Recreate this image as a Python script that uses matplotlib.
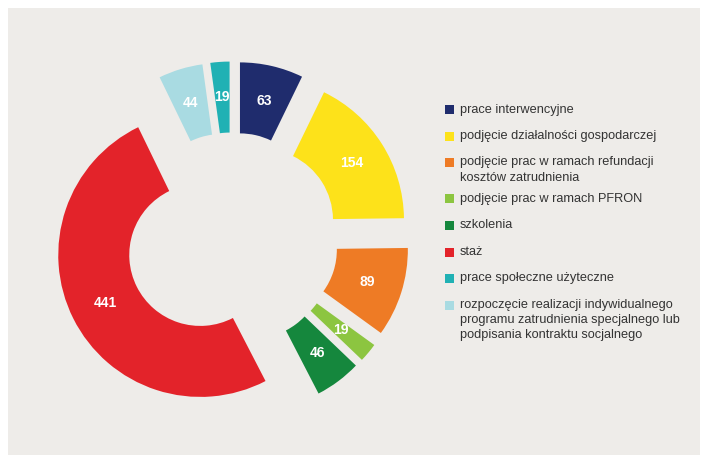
import matplotlib
matplotlib.use("Agg")
import matplotlib.pyplot as plt
from matplotlib.patches import Rectangle

# data (clockwise from the top, as drawn)
labels = [
    "prace interwencyjne",
    "podjęcie działalności gospodarczej",
    "podjęcie prac w ramach refundacji\nkosztów zatrudnienia",
    "podjęcie prac w ramach PFRON",
    "szkolenia",
    "staż",
    "rozpoczęcie realizacji indywidualnego\nprogramu zatrudnienia specjalnego lub\npodpisania kontraktu socjalnego",
    "prace społeczne użyteczne",
]
values = [63, 154, 89, 19, 46, 441, 44, 19]
colors = ["#1f2c6d", "#fde21a", "#ee7b25", "#8cc540", "#15873d",
          "#e3232a", "#a9dbe2", "#20b1b4"]

# legend order differs from drawing order
legend_order = [0, 1, 2, 3, 4, 5, 7, 6]

FONT = ["Liberation Sans Narrow", "DejaVu Sans Condensed", "Liberation Sans"]
W, H = 704, 465
R = 142.0          # outer radius in px
CX, CY = 232, 239  # pie centre in image px

fig = plt.figure(figsize=(W / 100, H / 100), dpi=100, facecolor="white")


def fx(x):
    return x / W


def fy(y):
    return 1 - y / H


# grey panel
fig.patches.append(Rectangle((fx(8), fy(455)), fx(692), (455 - 8) / H,
                             transform=fig.transFigure, facecolor="#eeece9",
                             edgecolor="none", zorder=-5))

ax = fig.add_axes([0, 0, 1, 1])
ax.set_facecolor("none")
ax.set_zorder(2)
total = sum(values)

wedges, texts, autotexts = ax.pie(
    values,
    colors=colors,
    startangle=90,
    counterclock=False,
    explode=[0.25] * len(values),
    radius=1.0,
    pctdistance=0.75,
    autopct=lambda p: f"{round(p * total / 100):d}",
    wedgeprops=dict(width=0.5, linewidth=0),
    textprops=dict(color="white", fontsize=10, fontweight="bold", family=FONT),
)

ax.set_xlim(-CX / R, (W - CX) / R)
ax.set_ylim(-(H - CY) / R, CY / R)
ax.set_aspect("auto")
ax.axis("off")

# legend, drawn by hand to match the layout
y = 110
for i in legend_order:
    lab = labels[i]
    fig.patches.append(Rectangle((fx(445), fy(y + 4.5)), 9 / W, 9 / H,
                                 transform=fig.transFigure,
                                 facecolor=colors[i], edgecolor="none"))
    fig.text(fx(460), fy(y - 6.5), lab, ha="left", va="top",
             fontsize=9.2, color="#333333", family=FONT, linespacing=1.35)
    nlines = lab.count("\n") + 1
    y += 26.5 + 9.5 * (nlines - 1)

fig.savefig("out.png", dpi=100, facecolor="white")
